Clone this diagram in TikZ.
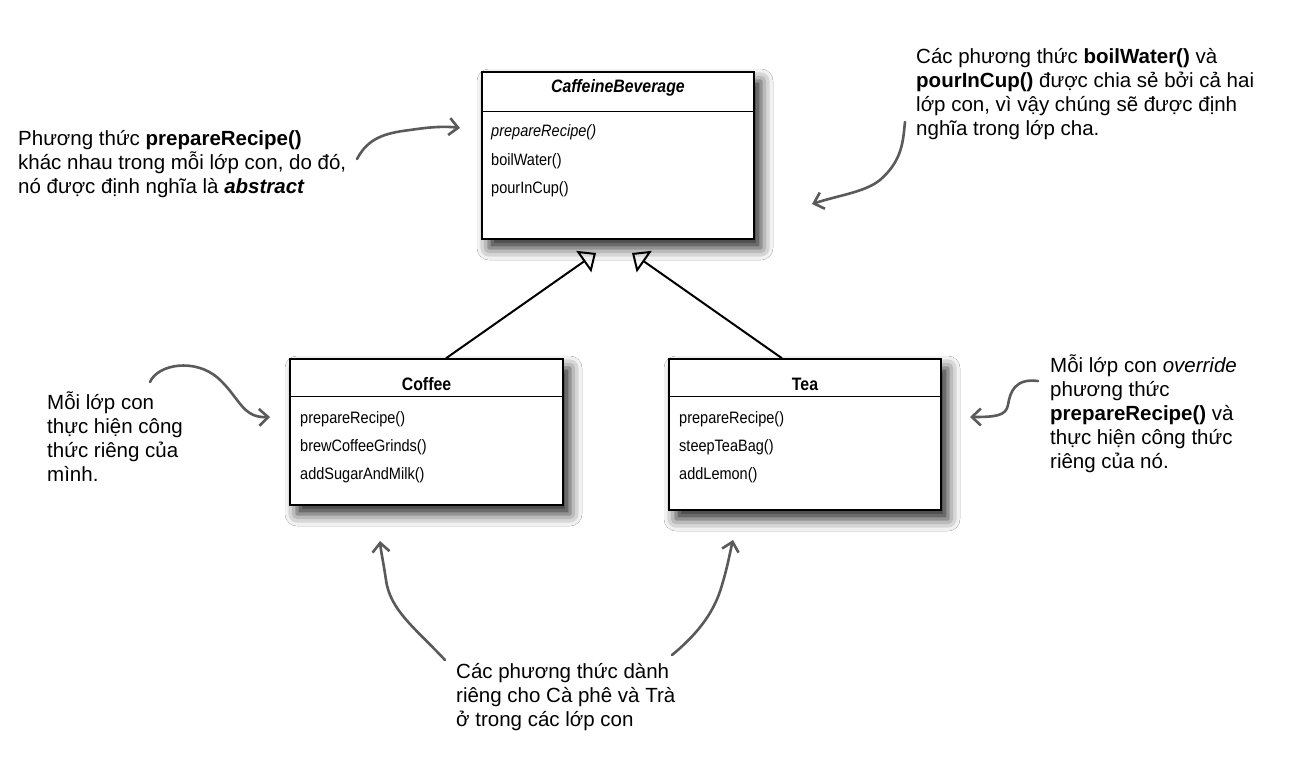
\documentclass[tikz,border=0pt]{standalone}
\usepackage{fontspec}
\setmainfont{Liberation Sans}
\newfontfamily\umlfont[FakeStretch=0.88]{Liberation Sans}
\usetikzlibrary{arrows.meta,calc,shadows.blur}

\definecolor{pointergray}{HTML}{5A5A5A}

\tikzset{
  classbox/.style={draw=black, line width=1.4pt, fill=white, inner sep=0pt,
    blur shadow={shadow xshift=7pt, shadow yshift=-9pt, shadow blur radius=12pt, shadow opacity=85}},
  classtitle/.style={font=\umlfont\fontsize{18}{21}\selectfont\bfseries, anchor=base, inner sep=0pt},
  member/.style={font=\umlfont\fontsize{16.5}{19}\selectfont, anchor=base west, inner sep=0pt},
  % multi-line notes: the base anchor sits on the last line
  note/.style={font=\fontsize{20.5}{24}\selectfont, align=left, anchor=base west, inner sep=0pt},
  inherit/.style={line width=2pt, -{Triangle[open, length=15pt, width=26pt, line width=2pt]}},
  pointer/.style={draw=pointergray, line width=2.6pt, line cap=round, line join=round,
    -{Straight Barb[length=9pt, width=17pt]}},
  divider/.style={line width=1.4pt},
}

\begin{document}
\begin{tikzpicture}[x=1pt, y=-1pt]
  % canvas
  \fill[white] (0,0) rectangle (1301,777);
  \useasboundingbox (0,0) rectangle (1301,777);

  % ---- class boxes ----
  \node[classbox, minimum width=272pt, minimum height=167pt] (cb) at (618,155.5) {};
  \node[classbox, minimum width=273pt, minimum height=146pt] (coffee) at (426.5,432) {};
  \node[classbox, minimum width=272pt, minimum height=151pt] (tea) at (805,434.5) {};

  \draw[divider] ($(cb.north west)+(0,40)$) -- ($(cb.north east)+(0,40)$);
  \draw[divider] ($(coffee.north west)+(0,38)$) -- ($(coffee.north east)+(0,38)$);
  \draw[divider] ($(tea.north west)+(0,38)$) -- ($(tea.north east)+(0,38)$);

  % CaffeineBeverage
  \node[classtitle] (cbtitle) at (618,92) {\itshape CaffeineBeverage};
  \node[member] (cbm1) at (491,136) {\itshape prepareRecipe()};
  \node[member] (cbm2) at (491,165) {boilWater()};
  \node[member] (cbm3) at (491,193) {pourInCup()};

  % Coffee
  \node[classtitle] (cftitle) at (426.5,390) {Coffee};
  \node[member] (cfm1) at (300,423) {prepareRecipe()};
  \node[member] (cfm2) at (300,451) {brewCoffeeGrinds()};
  \node[member] (cfm3) at (300,479) {addSugarAndMilk()};

  % Tea
  \node[classtitle] (teatitle) at (805,390) {Tea};
  \node[member] (team1) at (679,423) {prepareRecipe()};
  \node[member] (team2) at (679,451) {steepTeaBag()};
  \node[member] (team3) at (679,479) {addLemon()};

  % ---- generalisation ----
  \coordinate (cbL) at (596,253);
  \coordinate (cbR) at (632,253);
  \draw[inherit] ([xshift=19.5pt]coffee.north) -- (cbL);
  \draw[inherit] ([xshift=-23pt]tea.north) -- (cbR);

  % ---- notes ----
  \node[note] (nabstract) at (18,193)
    {Phương thức \textbf{prepareRecipe()}\\khác nhau trong mỗi lớp con, do đó,\\nó được định nghĩa là \textbf{\textit{abstract}}};
  \node[note] (nshared) at (916,135)
    {Các phương thức \textbf{boilWater()} và\\\textbf{pourInCup()} được chia sẻ bởi cả hai\\lớp con, vì vậy chúng sẽ được định\\nghĩa trong lớp cha.};
  \node[note] (nown) at (47,481)
    {Mỗi lớp con\\thực hiện công\\thức riêng của\\mình.};
  \node[note] (noverride) at (1050,468)
    {Mỗi lớp con \textit{override}\\phương thức\\\textbf{prepareRecipe()} và\\thực hiện công thức\\riêng của nó.};
  \node[note] (nspecific) at (456,726)
    {Các phương thức dành\\riêng cho Cà phê và Trà\\ở trong các lớp con};

  % ---- hand-drawn pointers ----
  \coordinate (p1s) at (357,159);
  \coordinate (p1e) at (460,128);
  \draw[pointer] (p1s) .. controls (368,138) and (385,133) .. (410,130)
                       .. controls (430,127) and (445,126) .. (p1e);

  \coordinate (p2s) at (905,122);
  \coordinate (p2e) at (812,204);
  \draw[pointer] (p2s) .. controls (903,140) and (903,160) .. (880,180)
                       .. controls (865,192) and (840,195) .. (p2e);

  \coordinate (p3s) at (150,382);
  \coordinate (p3e) at (270,417);
  \draw[pointer] (p3s) .. controls (158,364) and (195,358) .. (218,378)
                       .. controls (240,398) and (242,418) .. (p3e);

  \coordinate (p4s) at (1038,381);
  \coordinate (p4e) at (970,417);
  \draw[pointer] (p4s) .. controls (1015,378) and (1010,392) .. (1008,405)
                       .. controls (1006,416) and (995,417) .. (p4e);

  \coordinate (p5s) at (445,660);
  \coordinate (p5e) at (380,541);
  \draw[pointer] (p5s) .. controls (415,628) and (390,610) .. (386,580)
                       .. controls (383,560) and (381,552) .. (p5e);

  \coordinate (p6s) at (672,655);
  \coordinate (p6e) at (733,540);
  \draw[pointer] (p6s) .. controls (700,632) and (715,610) .. (722,585)
                       .. controls (728,565) and (730,552) .. (p6e);
\end{tikzpicture}
\end{document}
